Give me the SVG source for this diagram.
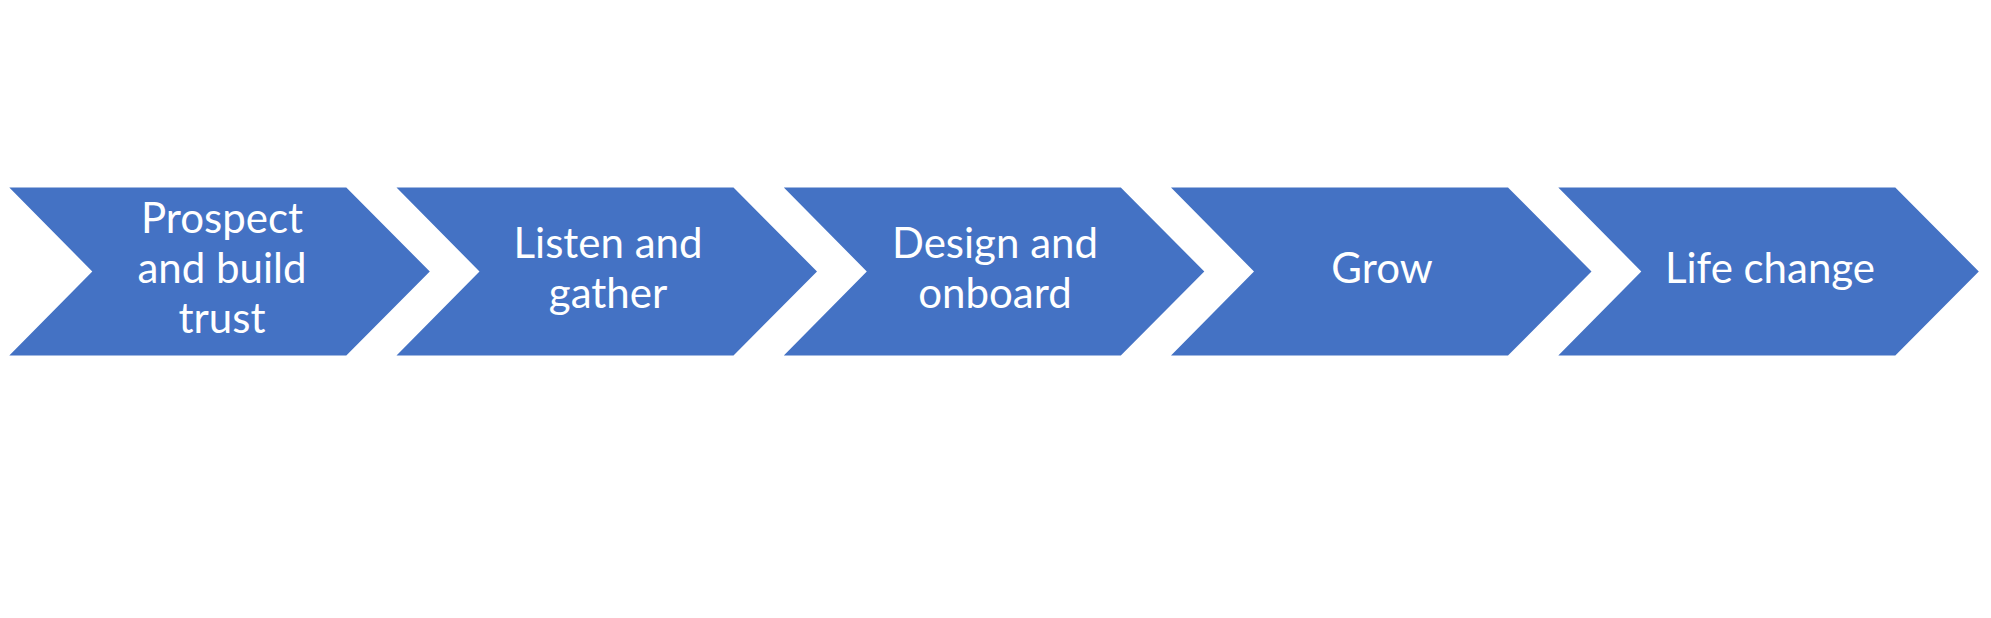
<svg xmlns="http://www.w3.org/2000/svg" width="1991" height="618" viewBox="0 0 1991 618">
<style>
.chev{fill:#4472C4}
.lbl{fill:#FFFFFF;font-family:Lato,"Open Sans","Liberation Sans",sans-serif;font-size:42px;text-anchor:middle}
</style>
<defs>
<polygon id="chevShape" points="0,187.5 337,187.5 420.5,271.5 337,355.5 0,355.5 83,271.5"/>
</defs>
<rect width="1991" height="618" fill="#FFFFFF"/>
<g id="connectors"/>
<g id="node1">
<use href="#chevShape" class="chev" x="9.3"/>
<text class="lbl"><tspan x="222" y="233">Prospect</tspan><tspan x="222" y="283">and build</tspan><tspan x="222" y="333">trust</tspan></text>
</g>
<g id="node2">
<use href="#chevShape" class="chev" x="396.5"/>
<text class="lbl"><tspan x="608" y="258">Listen and</tspan><tspan x="608" y="308">gather</tspan></text>
</g>
<g id="node3">
<use href="#chevShape" class="chev" x="783.8"/>
<text class="lbl"><tspan x="995" y="258">Design and</tspan><tspan x="995" y="308">onboard</tspan></text>
</g>
<g id="node4">
<use href="#chevShape" class="chev" x="1171"/>
<text class="lbl" x="1382" y="283">Grow</text>
</g>
<g id="node5">
<use href="#chevShape" class="chev" x="1558.3"/>
<text class="lbl" x="1770" y="283">Life change</text>
</g>
</svg>
